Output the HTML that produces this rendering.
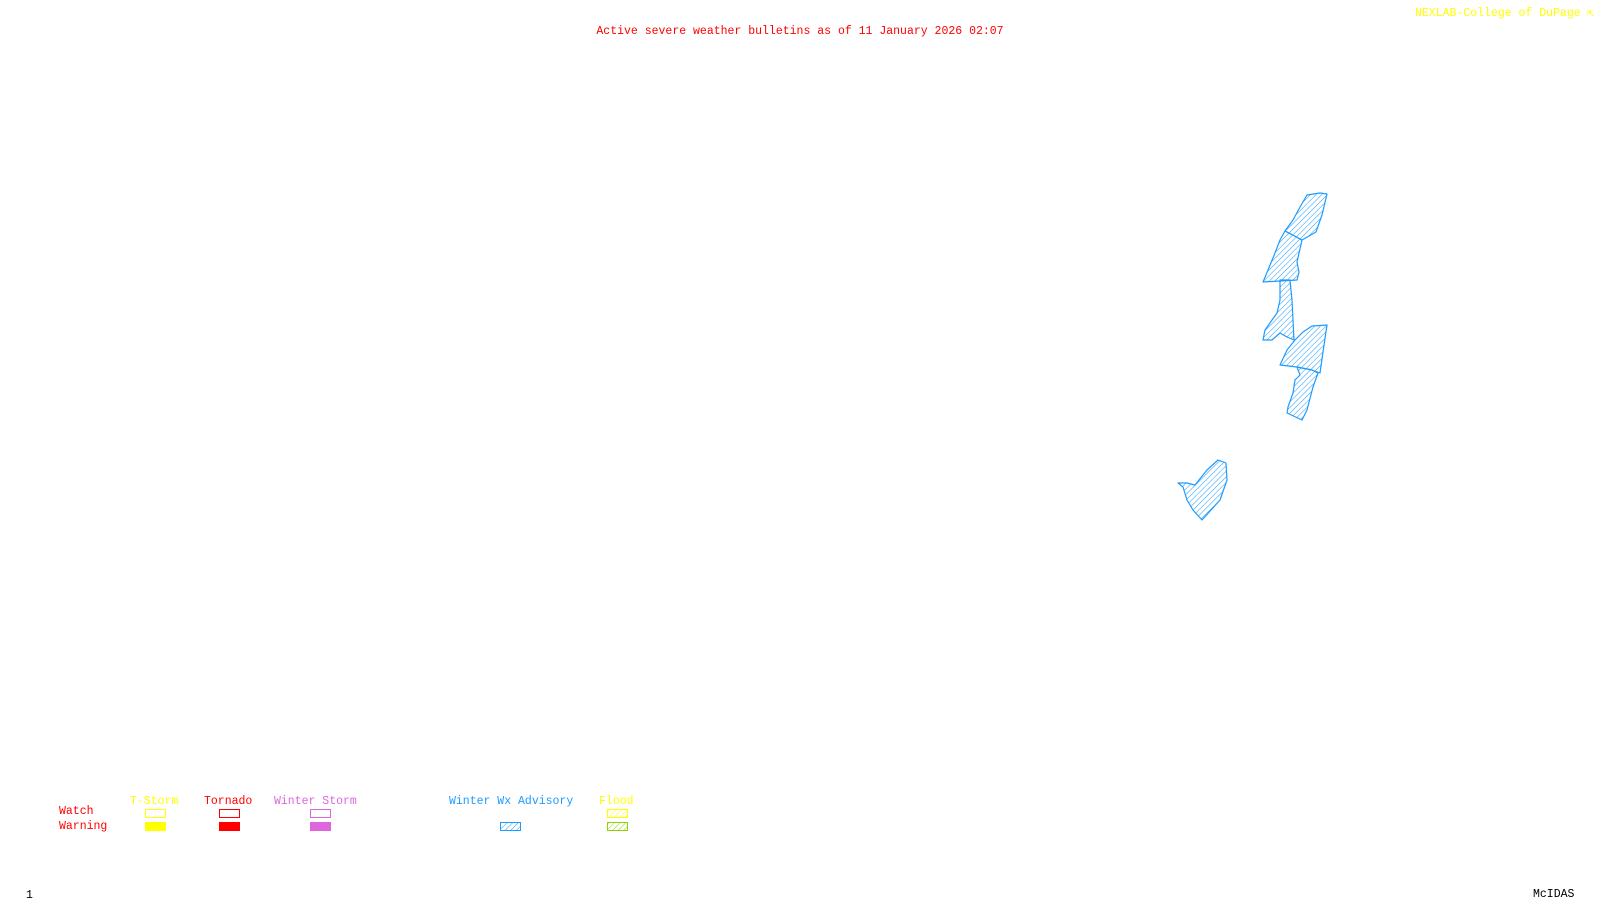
<!DOCTYPE html>
<html><head><meta charset="utf-8"><style>
html,body{margin:0;padding:0;background:#fff;width:1600px;height:900px;overflow:hidden}
svg{display:block}
text{font-family:"Liberation Mono","DejaVu Sans Mono",monospace;font-size:11.5px}
</style></head><body>
<svg width="1600" height="900" viewBox="0 0 1600 900" xmlns="http://www.w3.org/2000/svg">
<defs>
<pattern id="hb" width="4" height="4" patternUnits="userSpaceOnUse" patternTransform="rotate(45)">
<line x1="0" y1="0" x2="0" y2="4" stroke="#1E9BFF" stroke-width="1"/>
</pattern>
<pattern id="hy" width="4" height="4" patternUnits="userSpaceOnUse" patternTransform="rotate(45)">
<line x1="0" y1="0" x2="0" y2="4" stroke="#ffff00" stroke-width="1"/>
</pattern>
<pattern id="hg" width="4" height="4" patternUnits="userSpaceOnUse" patternTransform="rotate(45)">
<line x1="0" y1="0" x2="0" y2="4" stroke="#8fd400" stroke-width="1"/>
</pattern>
</defs>
<text x="800" y="34" fill="#ff0000" text-anchor="middle">Active severe weather bulletins as of 11 January 2026 02:07</text>
<text x="1415" y="16" fill="#ffff00">NEXLAB-College of DuPage</text>
<text x="1587" y="16" fill="#ffff00">⇱</text>
<g fill="url(#hb)" stroke="#1E9BFF" stroke-width="1.2" stroke-linejoin="round">
<polygon points="1307,195 1320,193 1327,194 1322,215 1316,232 1302,240 1285,231 1293,220 1300,207"/>
<polygon points="1285,231 1302,240 1297,262 1299,272 1297,280 1263,282 1268,270 1275,253 1280,240"/>
<polygon points="1280,280 1290,280 1292,300 1294,340 1287,337 1280,333 1272,340 1263,340 1265,330 1272,320 1277,313 1280,300"/>
<polygon points="1295,340 1303,332 1312,326 1327,325 1324,345 1320,373 1312,370 1297,367 1280,365 1287,350"/>
<polygon points="1297,367 1312,370 1318,373 1313,387 1307,410 1302,420 1287,413 1288,407 1293,393 1295,380 1300,375"/>
<polygon points="1218,460 1226,463 1227,480 1220,500 1202,520 1193,510 1187,500 1183,487 1178,483 1187,483 1195,485 1207,470"/>
</g>
<text x="59" y="814" fill="#ff0000">Watch</text>
<text x="59" y="829" fill="#ff0000">Warning</text>
<text x="130" y="804" fill="#ffff00">T-Storm</text>
<text x="204" y="804" fill="#ff0000">Tornado</text>
<text x="274" y="804" fill="#dd66dd">Winter Storm</text>
<text x="449" y="804" fill="#1E9BFF">Winter Wx Advisory</text>
<text x="599" y="804" fill="#ffff00">Flood</text>
<rect x="145.5" y="809.5" width="20" height="8" fill="none" stroke="#ffff00"/>
<rect x="145" y="822" width="21" height="9" fill="#ffff00"/>
<rect x="219.5" y="809.5" width="20" height="8" fill="none" stroke="#ff0000"/>
<rect x="219" y="822" width="21" height="9" fill="#ff0000"/>
<rect x="310.5" y="809.5" width="20" height="8" fill="none" stroke="#dd66dd"/>
<rect x="310" y="822" width="21" height="9" fill="#dd66dd"/>
<rect x="500.5" y="822.5" width="20" height="8" fill="url(#hb)" stroke="#1E9BFF"/>
<rect x="607.5" y="809.5" width="20" height="8" fill="url(#hy)" stroke="#ffff00"/>
<rect x="607.5" y="822.5" width="20" height="8" fill="url(#hg)" stroke="#8fd400"/>
<text x="26" y="898" fill="#000">1</text>
<text x="1533" y="897" fill="#000">McIDAS</text>
</svg>
</body></html>
